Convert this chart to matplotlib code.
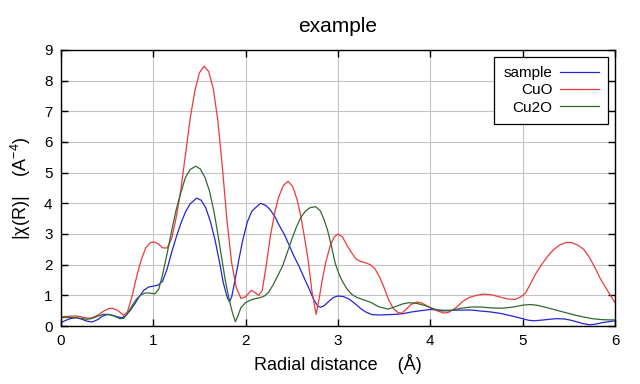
import matplotlib
matplotlib.use('agg')
import matplotlib.pyplot as plt

plt.rcParams['font.family'] = ['Liberation Sans', 'DejaVu Sans']
plt.rcParams['mathtext.fontset'] = 'custom'
plt.rcParams['mathtext.rm'] = 'Liberation Sans'
plt.rcParams['mathtext.it'] = 'Liberation Sans'

# digitised |chi(R)| curves, R in Angstrom
r_sample = [0.00, 0.05, 0.10, 0.16, 0.22, 0.28, 0.34, 0.40, 0.45, 0.50,
            0.55, 0.60, 0.66, 0.70, 0.75, 0.80, 0.85, 0.90, 0.95, 1.00,
            1.05, 1.10, 1.15, 1.20, 1.25, 1.30, 1.35, 1.40, 1.47, 1.52,
            1.57, 1.62, 1.67, 1.72, 1.76, 1.80, 1.825, 1.85, 1.89, 1.93,
            1.97, 2.02, 2.07, 2.16, 2.22, 2.27, 2.32, 2.36, 2.42, 2.47,
            2.52, 2.58, 2.63, 2.69, 2.74, 2.78, 2.81, 2.85, 2.90, 2.95,
            3.00, 3.06, 3.12, 3.19, 3.25, 3.30, 3.37, 3.45, 3.54, 3.62,
            3.70, 3.80, 3.90, 4.00, 4.15, 4.33, 4.45, 4.54, 4.65, 4.76,
            4.88, 5.00, 5.06, 5.12, 5.20, 5.29, 5.37, 5.45, 5.52, 5.57,
            5.65, 5.72, 5.79, 5.86, 5.93, 6.00]
chi_sample = [0.10, 0.18, 0.24, 0.27, 0.23, 0.16, 0.13, 0.21, 0.32, 0.37,
              0.36, 0.31, 0.27, 0.33, 0.50, 0.72, 0.96, 1.17, 1.27, 1.30,
              1.33, 1.45, 1.85, 2.40, 2.90, 3.35, 3.72, 3.98, 4.17, 4.10,
              3.85, 3.40, 2.80, 2.05, 1.40, 0.95, 0.79, 0.95, 1.56, 2.20,
              2.80, 3.40, 3.75, 4.00, 3.93, 3.78, 3.55, 3.31, 2.98, 2.65,
              2.30, 1.94, 1.60, 1.20, 0.85, 0.66, 0.61, 0.66, 0.80, 0.93,
              0.98, 0.96, 0.88, 0.72, 0.56, 0.46, 0.37, 0.36, 0.37, 0.38,
              0.40, 0.46, 0.50, 0.54, 0.51, 0.52, 0.52, 0.49, 0.46, 0.41,
              0.33, 0.24, 0.19, 0.17, 0.19, 0.22, 0.24, 0.23, 0.19, 0.15,
              0.08, 0.04, 0.06, 0.11, 0.14, 0.17]

r_cuo = [0.00, 0.05, 0.10, 0.16, 0.22, 0.28, 0.33, 0.40, 0.46, 0.52,
         0.56, 0.62, 0.68, 0.72, 0.77, 0.82, 0.87, 0.92, 0.97, 1.01,
         1.06, 1.10, 1.15, 1.20, 1.25, 1.30, 1.35, 1.40, 1.45, 1.50,
         1.55, 1.60, 1.65, 1.70, 1.75, 1.80, 1.85, 1.90, 1.95, 2.00,
         2.06, 2.10, 2.14, 2.18, 2.22, 2.27, 2.32, 2.36, 2.41, 2.46,
         2.51, 2.56, 2.60, 2.64, 2.68, 2.72, 2.765, 2.80, 2.83, 2.87,
         2.92, 2.96, 3.00, 3.05, 3.10, 3.15, 3.20, 3.25, 3.30, 3.35,
         3.40, 3.45, 3.50, 3.55, 3.60, 3.65, 3.69, 3.74, 3.79, 3.85,
         3.90, 3.95, 4.00, 4.07, 4.15, 4.20, 4.28, 4.35, 4.42, 4.50,
         4.58, 4.66, 4.76, 4.84, 4.92, 4.98, 5.03, 5.08, 5.14, 5.20,
         5.27, 5.33, 5.40, 5.47, 5.53, 5.60, 5.66, 5.72, 5.78, 5.84,
         5.90, 5.95, 6.00]
chi_cuo = [0.30, 0.31, 0.32, 0.33, 0.30, 0.26, 0.26, 0.35, 0.48, 0.57,
           0.58, 0.50, 0.35, 0.45, 0.95, 1.60, 2.15, 2.55, 2.72, 2.74,
           2.67, 2.55, 2.54, 2.85, 3.55, 4.45, 5.60, 6.75, 7.65, 8.25,
           8.47, 8.30, 7.75, 6.70, 5.15, 3.40, 2.05, 1.25, 0.90, 0.95,
           1.16, 1.10, 1.00, 1.15, 1.90, 2.95, 3.75, 4.22, 4.58, 4.72,
           4.55, 4.10, 3.55, 2.85, 2.10, 1.10, 0.38, 0.95, 1.50, 2.10,
           2.65, 2.90, 3.00, 2.90, 2.62, 2.38, 2.17, 2.10, 2.06, 2.00,
           1.87, 1.60, 1.25, 0.85, 0.57, 0.44, 0.42, 0.55, 0.70, 0.78,
           0.76, 0.68, 0.60, 0.50, 0.42, 0.45, 0.60, 0.80, 0.93, 1.00,
           1.04, 1.02, 0.94, 0.88, 0.87, 0.95, 1.07, 1.35, 1.70, 1.98,
           2.27, 2.48, 2.64, 2.72, 2.72, 2.63, 2.50, 2.25, 1.92, 1.55,
           1.25, 1.00, 0.76]

r_cu2o = [0.00, 0.05, 0.10, 0.16, 0.22, 0.28, 0.33, 0.40, 0.46, 0.52,
          0.58, 0.64, 0.68, 0.72, 0.77, 0.82, 0.87, 0.92, 0.97, 1.02,
          1.06, 1.10, 1.15, 1.20, 1.25, 1.30, 1.35, 1.40, 1.46, 1.51,
          1.56, 1.61, 1.66, 1.70, 1.74, 1.78, 1.82, 1.855, 1.89, 1.92,
          1.95, 2.00, 2.05, 2.10, 2.15, 2.20, 2.25, 2.30, 2.35, 2.40,
          2.45, 2.50, 2.55, 2.60, 2.65, 2.70, 2.76, 2.81, 2.85, 2.89,
          2.93, 2.97, 3.01, 3.05, 3.10, 3.15, 3.20, 3.28, 3.35, 3.44,
          3.54, 3.62, 3.70, 3.77, 3.85, 3.93, 4.00, 4.07, 4.13, 4.22,
          4.33, 4.45, 4.55, 4.66, 4.78, 4.90, 5.00, 5.08, 5.15, 5.25,
          5.36, 5.46, 5.56, 5.65, 5.75, 5.85, 5.93, 6.00]
chi_cu2o = [0.27, 0.28, 0.28, 0.27, 0.25, 0.22, 0.24, 0.32, 0.38, 0.38,
            0.32, 0.24, 0.25, 0.40, 0.65, 0.88, 1.02, 1.08, 1.07, 1.05,
            1.20, 1.65, 2.35, 3.10, 3.80, 4.35, 4.85, 5.10, 5.21, 5.12,
            4.85, 4.40, 3.70, 3.00, 2.25, 1.50, 0.90, 0.47, 0.14, 0.35,
            0.60, 0.76, 0.84, 0.89, 0.92, 0.97, 1.10, 1.35, 1.65, 1.95,
            2.38, 2.82, 3.22, 3.55, 3.75, 3.86, 3.89, 3.75, 3.47, 3.10,
            2.60, 2.05, 1.70, 1.45, 1.20, 1.03, 0.94, 0.85, 0.78, 0.63,
            0.55, 0.63, 0.72, 0.76, 0.74, 0.68, 0.60, 0.53, 0.49, 0.50,
            0.58, 0.62, 0.62, 0.59, 0.58, 0.62, 0.68, 0.70, 0.68, 0.61,
            0.52, 0.44, 0.36, 0.30, 0.24, 0.21, 0.20, 0.20]

fig = plt.figure(figsize=(6.4, 3.84), dpi=100)
ax = fig.add_axes([0.095, 0.151, 0.866, 0.719])

ax.plot(r_sample, chi_sample, color='#2424d8', lw=0.9, label='sample')
ax.plot(r_cuo, chi_cuo, color='#ee3a3a', lw=0.9, label='CuO')
ax.plot(r_cu2o, chi_cu2o, color='#2f6a2f', lw=0.9, label='Cu2O')

ax.set_xlim(0, 6)
ax.set_ylim(0, 9)
ax.set_xticks(range(0, 7))
ax.set_yticks(range(0, 10))
ax.grid(True, color='#c4c4c4', lw=0.8)
ax.set_axisbelow(True)
ax.tick_params(direction='in', length=5, width=1, top=True, right=True,
               labelsize=11, pad=6)
for s in ax.spines.values():
    s.set_linewidth(1)

ax.set_title('example', fontsize=15, pad=13)
ax.set_xlabel('Radial distance    (Å)', fontsize=13, labelpad=4)
ax.set_ylabel('|χ(R)|    (A$^{-4}$)', fontsize=13, labelpad=8)

leg = ax.legend(loc='upper right', markerfirst=False, fontsize=11,
                fancybox=False, framealpha=1, edgecolor='black',
                borderpad=0.6, borderaxespad=0.45, handlelength=2.55,
                handletextpad=0.5, labelspacing=0.22)
leg.get_frame().set_linewidth(0.9)

fig.savefig('out.png')
